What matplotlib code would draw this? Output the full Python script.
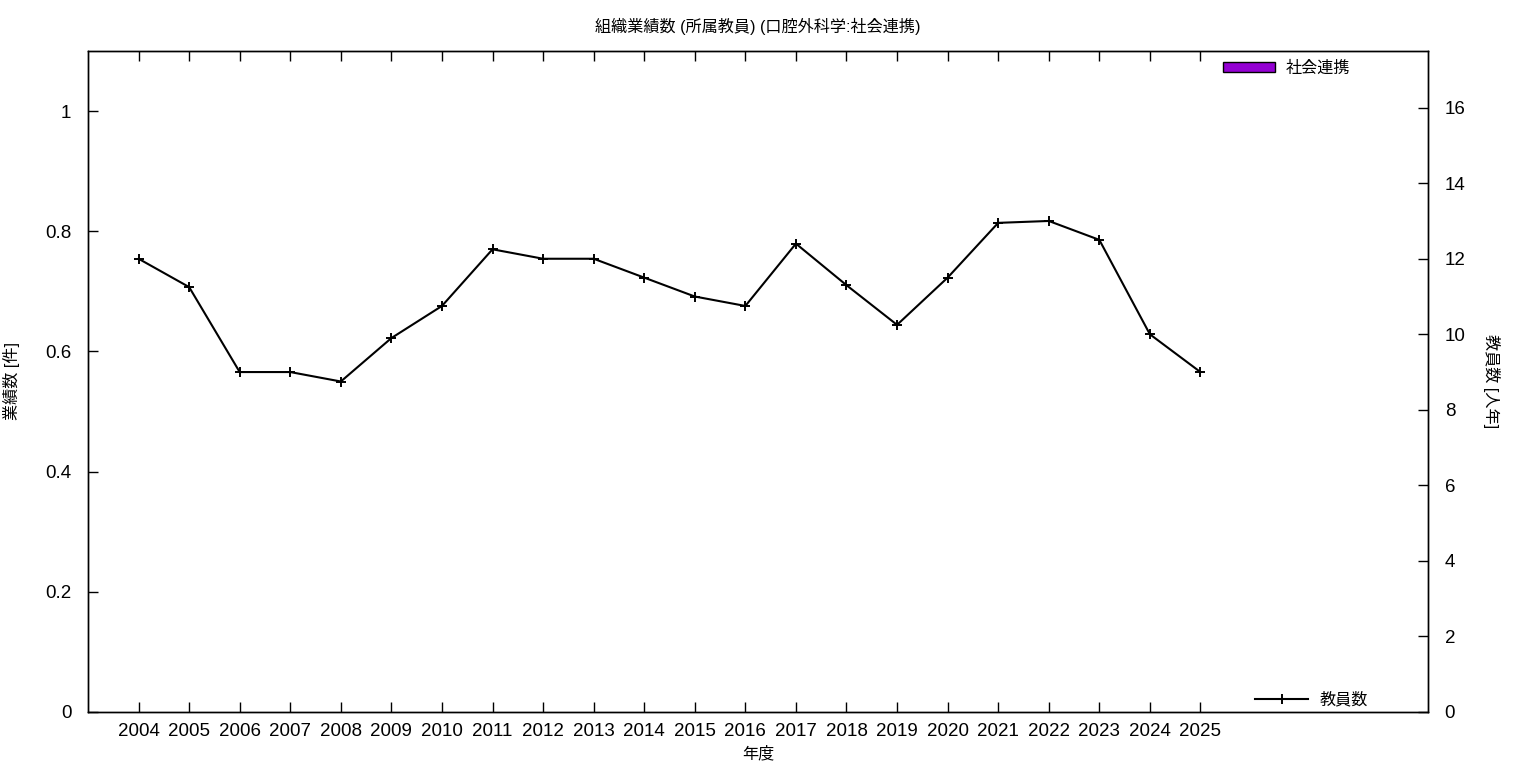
import matplotlib
matplotlib.use("Agg")
import matplotlib.pyplot as plt
from matplotlib.patches import Patch
from matplotlib.lines import Line2D

plt.rcParams['font.family'] = ['Liberation Sans', 'Noto Sans CJK JP', 'DejaVu Sans']

years = list(range(2004, 2026))
# 社会連携 (all zero in this chart)
renkei = [0] * len(years)
# 教員数 [人年]
staff = [12, 11.25, 9, 9, 8.75, 9.9, 10.75, 12.25, 12, 12, 11.5,
         11, 10.75, 12.4, 11.3, 10.25, 11.5, 12.95, 13.0, 12.5, 10, 9]

fig = plt.figure(figsize=(15.36, 7.68), dpi=100)
ax = fig.add_axes([88 / 1536, 56 / 768, 1340 / 1536, 661 / 768])
ax2 = ax.twinx()

ax.bar(years, renkei, width=0.5, color='#9400d3', linewidth=0)
ax2.plot(years, staff, color='black', linewidth=1.5, marker='+', markersize=7,
         markeredgewidth=1.4)

ax.set_xlim(2003, 2029.5)
ax.set_ylim(0, 1.1)
ax2.set_ylim(0, 17.5)
ax.set_xticks(years)
ax.set_xticklabels([str(y) for y in years])
ax.set_yticks([0, 0.2, 0.4, 0.6, 0.8, 1.0])
ax.set_yticklabels(['0', '0.2', '0.4', '0.6', '0.8', '1'])
ax2.set_yticks(range(0, 17, 2))

ax.tick_params(axis='x', direction='in', top=True, length=7, width=1,
               labelsize=13.5, pad=8)
ax.tick_params(axis='y', direction='in', right=False, length=7, width=1,
               labelsize=13.5, pad=12)
ax2.tick_params(axis='y', direction='in', length=7, width=1,
                labelsize=13.5, pad=12)
for a in (ax, ax2):
    for s in a.spines.values():
        s.set_linewidth(1)

ax.set_title('組織業績数 (所属教員) (口腔外科学:社会連携)', fontsize=11.6, pad=14)
ax.set_xlabel('年度', fontsize=11.6, labelpad=4)
ax.set_ylabel('業績数 [件]', fontsize=11.6, labelpad=18)
ax2.set_ylabel('教員数 [人年]', fontsize=11.6, rotation=-90, labelpad=25)

ax.legend(handles=[Patch(facecolor='#9400d3', edgecolor='black', linewidth=1)],
          labels=['社会連携'], loc='upper right', bbox_to_anchor=(0.947, 0.995),
          frameon=False, fontsize=11.6, handlelength=3.2, handleheight=0.6,
          handletextpad=0.7, borderaxespad=0)
ax2.legend(handles=[Line2D([], [], color='black', linewidth=1.5, marker='+',
                           markersize=7, markeredgewidth=1.4)],
           labels=['教員数'], loc='lower right', bbox_to_anchor=(0.96, -0.003),
           frameon=False, fontsize=11.6, handlelength=3.3,
           handletextpad=0.7, borderaxespad=0)

fig.savefig('out.png', dpi=100)
